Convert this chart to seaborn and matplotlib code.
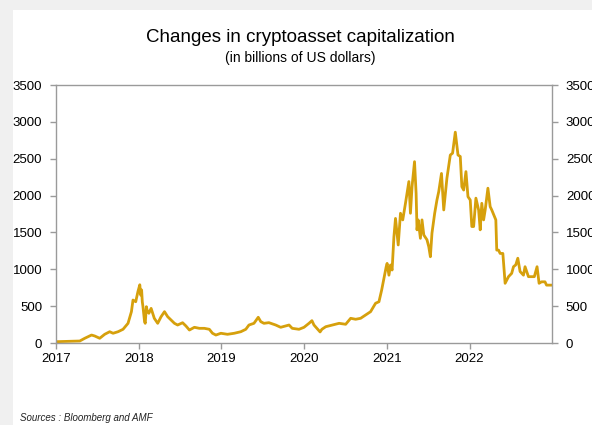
import pandas as pd
import matplotlib
matplotlib.use('Agg')
import matplotlib.pyplot as plt
import matplotlib.dates as mdates
from matplotlib.patches import Rectangle
import seaborn as sns

# Capitalization (billions of US dollars)
dates = [
    '2017-01-04', '2017-04-16', '2017-05-08', '2017-06-07', '2017-06-21', '2017-07-13',
    '2017-08-04', '2017-08-26', '2017-09-10', '2017-10-02', '2017-10-24', '2017-11-15',
    '2017-11-30', '2017-12-07', '2017-12-19', '2017-12-29', '2018-01-06', '2018-01-10',
    '2018-01-14', '2018-01-17', '2018-01-20', '2018-01-27', '2018-01-30', '2018-02-04',
    '2018-02-07', '2018-02-15', '2018-02-25', '2018-03-11', '2018-03-26', '2018-04-10',
    '2018-04-25', '2018-05-09', '2018-05-24', '2018-06-08', '2018-06-22', '2018-07-14',
    '2018-07-29', '2018-08-13', '2018-09-04', '2018-09-26', '2018-10-18', '2018-11-09',
    '2018-11-23', '2018-12-08', '2018-12-30', '2019-01-28', '2019-02-27', '2019-03-28',
    '2019-04-19', '2019-05-03', '2019-05-25', '2019-06-13', '2019-06-24', '2019-07-08',
    '2019-07-30', '2019-08-29', '2019-09-20', '2019-10-12', '2019-10-27', '2019-11-10',
    '2019-12-10', '2020-01-01', '2020-01-23', '2020-02-05', '2020-02-14', '2020-03-12',
    '2020-03-20', '2020-04-06', '2020-05-05', '2020-06-04', '2020-07-03', '2020-07-25',
    '2020-08-16', '2020-09-07', '2020-09-29', '2020-10-21', '2020-11-12', '2020-11-27',
    '2020-12-09', '2020-12-19', '2020-12-29', '2021-01-02', '2021-01-10', '2021-01-17',
    '2021-01-24', '2021-02-01', '2021-02-08', '2021-02-20', '2021-03-02', '2021-03-12',
    '2021-03-24', '2021-04-08', '2021-04-15', '2021-04-22', '2021-05-03', '2021-05-10',
    '2021-05-14', '2021-05-19', '2021-05-29', '2021-06-05', '2021-06-13', '2021-06-27',
    '2021-07-05', '2021-07-12', '2021-07-19', '2021-07-31', '2021-08-10', '2021-08-18',
    '2021-08-30', '2021-09-09', '2021-09-23', '2021-10-08', '2021-10-18', '2021-10-30',
    '2021-11-11', '2021-11-21', '2021-11-28', '2021-12-06', '2021-12-16', '2021-12-25',
    '2022-01-04', '2022-01-11', '2022-01-19', '2022-01-29', '2022-02-10', '2022-02-17',
    '2022-02-24', '2022-03-04', '2022-03-11', '2022-03-23', '2022-04-02', '2022-04-09',
    '2022-04-21', '2022-04-27', '2022-05-01', '2022-05-09', '2022-05-16', '2022-05-28',
    '2022-06-07', '2022-06-22', '2022-07-06', '2022-07-14', '2022-07-24', '2022-08-02',
    '2022-08-12', '2022-08-27', '2022-09-03', '2022-09-18', '2022-10-02', '2022-10-14',
    '2022-10-26', '2022-11-04', '2022-11-15', '2022-11-30', '2022-12-07', '2022-12-30',
]
market_cap = [
    18, 27, 64, 108, 95, 64,
    118, 153, 132, 153, 186, 267,
    425, 583, 560, 700, 790, 650,
    720, 560, 493, 290, 267, 493,
    448, 403, 470, 335, 267, 357,
    425, 357, 312, 267, 244, 275,
    230, 176, 213, 199, 199, 186,
    132, 108, 132, 118, 132, 153,
    186, 244, 267, 349, 290, 267,
    276, 244, 213, 231, 244, 199,
    186, 213, 267, 303, 244, 150,
    186, 221, 244, 267, 254, 335,
    322, 335, 380, 425, 539, 560,
    720, 878, 1035, 1080, 920, 1058,
    990, 1440, 1690, 1330, 1760, 1670,
    1895, 2190, 1760, 2120, 2460, 2030,
    1535, 1670, 1420, 1670, 1465, 1400,
    1305, 1170, 1490, 1760, 1940, 2055,
    2300, 1805, 2235, 2550, 2575, 2860,
    2550, 2530, 2120, 2075, 2325, 1985,
    1940, 1580, 1580, 1965, 1805, 1535,
    1895, 1670, 1805, 2100, 1850, 1805,
    1715, 1670, 1260, 1260, 1215, 1215,
    810, 900, 945, 1035, 1060, 1150,
    970, 920, 1035, 900, 900, 900,
    1035, 810, 830, 830, 785, 785,
]
y_ticks = [0, 500, 1000, 1500, 2000, 2500, 3000, 3500]
title = 'Changes in cryptoasset capitalization'
subtitle = '(in billions of US dollars)'
source = 'Sources : Bloomberg and AMF'

df = pd.DataFrame({'date': pd.to_datetime(dates), 'cap': market_cap})

sns.set_style('white')
plt.rcParams['font.family'] = ['Liberation Sans', 'DejaVu Sans']
plt.rcParams['text.color'] = 'black'

fig = plt.figure(figsize=(5.92, 4.25), dpi=100, facecolor='#f0f0f0')
# white panel behind the chart
panel = Rectangle((13 / 592, 0), 1, 1 - 10 / 425, transform=fig.transFigure,
                  facecolor='white', edgecolor='none', zorder=-10)
fig.add_artist(panel)

ax = fig.add_axes([56 / 592, 1 - 343 / 425, (552 - 56) / 592, (343 - 85) / 425])
ax.set_facecolor('white')

sns.lineplot(data=df, x='date', y='cap', ax=ax, color='#D6A00C', linewidth=2.0)

ax.set_xlim(pd.Timestamp('2017-01-01'), pd.Timestamp('2022-12-31'))
ax.set_ylim(0, 3500)
ax.set_yticks(y_ticks)
ax.xaxis.set_major_locator(mdates.YearLocator())
ax.xaxis.set_major_formatter(mdates.DateFormatter('%Y'))
ax.set_xlabel('')
ax.set_ylabel('')

for side in ['left', 'right', 'top', 'bottom']:
    ax.spines[side].set_visible(True)
    ax.spines[side].set_color('#9a9a9a')
    ax.spines[side].set_linewidth(1.0)

ax.tick_params(axis='both', direction='out', length=4, width=1, color='#9a9a9a',
               labelsize=9.5, labelcolor='black')
ax.tick_params(axis='y', left=True, right=True, labelleft=True, labelright=True, pad=6)
ax.tick_params(axis='x', bottom=True, pad=3)

fig.text(0.507, 1 - 37 / 425, title, ha='center', va='center', fontsize=13.5, color='black')
fig.text(0.507, 1 - 58 / 425, subtitle, ha='center', va='center', fontsize=10, color='black')
fig.text(20 / 592, 1 - 418 / 425, source, ha='left', va='center', fontsize=7,
         style='italic', color='#222222')

fig.savefig('out.png', dpi=100, facecolor=fig.get_facecolor())
plt.close(fig)
